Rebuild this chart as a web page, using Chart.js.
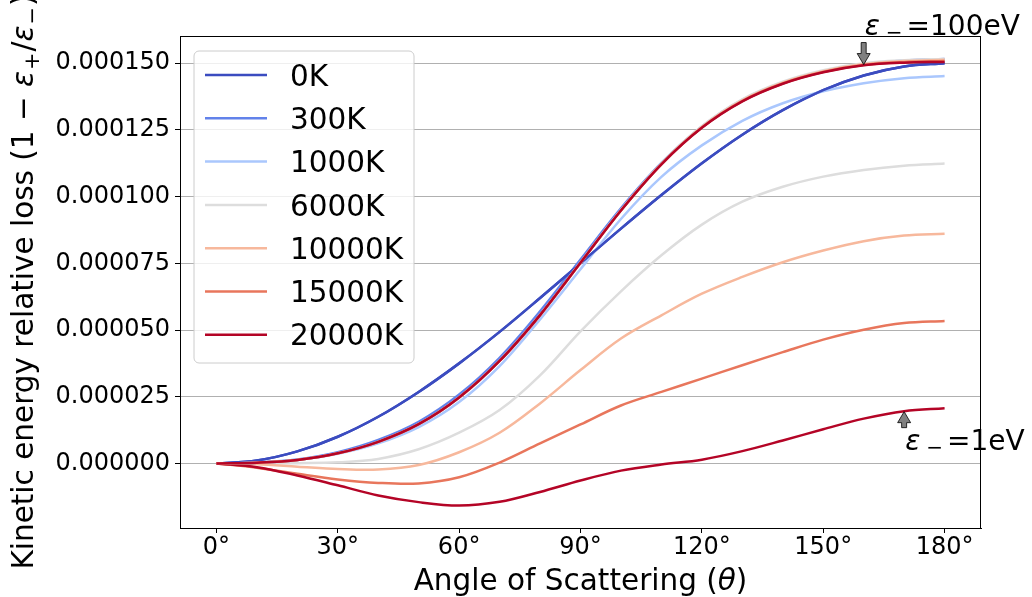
<!DOCTYPE html>
<html>
<head>
<meta charset="utf-8">
<script src="https://cdn.jsdelivr.net/npm/chart.js@4.4.0/dist/chart.umd.min.js"></script>
<style>
html,body{margin:0;padding:0;background:#fff;}
#wrap{width:1032px;height:597px;position:relative;}
</style>
</head>
<body>
<div id="wrap"><canvas id="c" width="1032" height="597"></canvas></div>
<script>
// ---------- data (values in units of 1e-6) ----------
const UNIT = 1e-6;
const angles = [0,10,20,30,40,50,60,70,80,90,100,110,120,130,140,150,160,170,180];
const temperatures = ['0K','300K','1000K','6000K','10000K','15000K','20000K'];
const colors = ['#3b4cc0','#6282ea','#aac7fd','#dddddd','#f7b89c','#e8765c','#b40426'];

const loss_0K = [0, 1.1, 4.5, 10.0, 17.5, 26.8, 37.5, 49.3, 62.0, 75.0, 88.0, 100.6, 112.5, 123.2, 132.4, 139.9, 145.4, 148.8, 150.0];

// epsilon_- = 100 eV
const loss100_300K   = [0, 0.3, 1.3, 3.9, 8.2, 14.8, 24.8, 38.6, 55.8, 75.4, 95.0, 112.3, 126.0, 135.9, 142.5, 146.8, 149.4, 150.5, 150.9];
const loss100_1000K  = [0, 0.3, 1.3, 3.8, 8.1, 14.7, 24.7, 38.5, 55.7, 75.3, 95.0, 112.3, 126.1, 136.1, 142.7, 147.0, 149.6, 150.7, 151.2];
const loss100_6000K  = [0, 0.3, 1.3, 3.8, 8.1, 14.7, 24.7, 38.4, 55.6, 75.3, 95.0, 112.5, 126.4, 136.5, 143.1, 147.4, 150.0, 151.1, 151.6];
const loss100_10000K = [0, 0.3, 1.3, 3.8, 8.1, 14.7, 24.7, 38.4, 55.6, 75.2, 94.9, 112.3, 126.1, 136.1, 142.7, 147.0, 149.7, 150.8, 151.3];
const loss100_15000K = [0, 0.3, 1.3, 3.8, 8.1, 14.7, 24.7, 38.4, 55.6, 75.2, 94.8, 112.1, 125.9, 135.8, 142.4, 146.7, 149.3, 150.4, 150.8];
const loss100_20000K = [0, 0.3, 1.3, 3.8, 8.1, 14.7, 24.7, 38.4, 55.6, 75.2, 94.8, 112.1, 125.8, 135.7, 142.3, 146.6, 149.2, 150.2, 150.5];

// epsilon_- = 1 eV
const loss1_300K   = [0, 0.4, 1.5, 4.2, 8.8, 15.6, 25.8, 39.6, 57.0, 76.4, 95.6, 112.6, 126.3, 136.3, 142.8, 147.0, 149.7, 151.0, 151.6];
const loss1_1000K  = [0, 0.3, 1.3, 3.6, 7.5, 13.6, 23.0, 36.5, 54.0, 72.8, 91.6, 107.4, 119.2, 128.4, 135.0, 139.5, 142.5, 144.4, 145.2];
const loss1_6000K  = [0, 0.0, 0.1, 0.4, 1.7, 5.3, 11.5, 20.0, 33.0, 49.5, 64.5, 78.0, 89.5, 98.1, 103.7, 107.5, 110.0, 111.6, 112.4];
const loss1_10000K = [0, -0.3, -1.2, -2.1, -2.3, -0.6, 4.2, 11.5, 22.5, 35.0, 46.8, 55.5, 63.6, 69.9, 75.4, 79.8, 83.3, 85.4, 86.1];
const loss1_15000K = [0, -1.6, -3.9, -6.0, -7.3, -7.5, -5.2, 0.3, 7.5, 14.6, 21.7, 26.8, 31.8, 36.8, 41.7, 46.4, 50.1, 52.6, 53.4];
const loss1_20000K = [0, -1.4, -4.5, -8.2, -12.0, -14.5, -15.8, -14.4, -10.7, -6.4, -2.7, -0.4, 1.4, 4.6, 8.6, 12.8, 16.8, 19.6, 20.7];

const xTickValues = [0, 30, 60, 90, 120, 150, 180];
const yTickValues = [0, 25, 50, 75, 100, 125, 150];

const annotationAngles = [160, 170];
const annotationValues = [149.5, 19.4];
const annotationLabels = ['=100eV', '=1eV'];

// ---------- build ----------
const series1 = [loss_0K, loss1_300K, loss1_1000K, loss1_6000K, loss1_10000K, loss1_15000K, loss1_20000K];
const series100 = [loss_0K, loss100_300K, loss100_1000K, loss100_6000K, loss100_10000K, loss100_15000K, loss100_20000K];

const drawList = [];
series1.forEach((s, i) => drawList.push({label: temperatures[i] + ' (1eV)', data: s, color: colors[i]}));
series100.forEach((s, i) => drawList.push({label: temperatures[i], data: s, color: colors[i]}));
const N = drawList.length;
const datasets = drawList.map((d, k) => ({
  label: d.label,
  data: angles.map((a, j) => ({x: a, y: d.data[j] * UNIT})),
  borderColor: d.color,
  backgroundColor: d.color,
  borderWidth: 2.5,
  pointRadius: 0,
  fill: false,
  tension: 0.35,
  order: N - k
}));

const FONT = "'DejaVu Sans'";
const BIG = 29.5;
Chart.defaults.font.family = FONT;
Chart.defaults.color = '#000';

function drawSegments(ctx, segs, x, y, align) {
  let total = 0;
  segs.forEach(s => { ctx.font = s.f; s.w = ctx.measureText(s.t).width; total += s.w + (s.gap || 0); });
  let cx = align === 'center' ? x - total / 2 : x;
  ctx.textAlign = 'left';
  ctx.textBaseline = 'alphabetic';
  segs.forEach(s => { ctx.font = s.f; ctx.fillText(s.t, cx, y + (s.dy || 0)); cx += s.w + (s.gap || 0); });
}

function arrow(ctx, x, yTail, yTip) {
  const dir = Math.sign(yTip - yTail);
  const hl = 11, hw = 6.5, sw = 2.5;
  const yb = yTip - dir * hl;
  ctx.beginPath();
  ctx.moveTo(x - sw, yTail);
  ctx.lineTo(x + sw, yTail);
  ctx.lineTo(x + sw, yb);
  ctx.lineTo(x + hw, yb);
  ctx.lineTo(x, yTip);
  ctx.lineTo(x - hw, yb);
  ctx.lineTo(x - sw, yb);
  ctx.closePath();
  ctx.fillStyle = '#808080';
  ctx.fill();
  ctx.lineWidth = 0.8;
  ctx.strokeStyle = '#000';
  ctx.stroke();
}

const decorPlugin = {
  id: 'decor',
  afterDraw(chart) {
    const ctx = chart.ctx;
    const ca = chart.chartArea;
    const xs = chart.scales.x, ys = chart.scales.y;
    const big = BIG + 'px ' + FONT, bigIt = 'italic ' + BIG + 'px ' + FONT, small = '21px ' + FONT;
    const ann = '28px ' + FONT, annIt = 'italic 28px ' + FONT, annSmall = '20px ' + FONT;
    ctx.save();
    // legend
    const lx = 194, ly = 51, lw = 220, lh = 312, r = 5;
    ctx.beginPath();
    ctx.moveTo(lx + r, ly);
    ctx.arcTo(lx + lw, ly, lx + lw, ly + lh, r);
    ctx.arcTo(lx + lw, ly + lh, lx, ly + lh, r);
    ctx.arcTo(lx, ly + lh, lx, ly, r);
    ctx.arcTo(lx, ly, lx + lw, ly, r);
    ctx.closePath();
    ctx.fillStyle = 'rgba(255,255,255,0.8)';
    ctx.fill();
    ctx.strokeStyle = '#cccccc';
    ctx.lineWidth = 1;
    ctx.stroke();
    temperatures.forEach((t, i) => {
      const y = 75 + i * 43.3;
      ctx.beginPath();
      ctx.moveTo(205, y); ctx.lineTo(267, y);
      ctx.strokeStyle = colors[i]; ctx.lineWidth = 2.5; ctx.stroke();
      ctx.fillStyle = '#000';
      ctx.font = big;
      ctx.textAlign = 'left'; ctx.textBaseline = 'alphabetic';
      ctx.fillText(t, 290, y + 10.6);
    });
    // frame
    ctx.strokeStyle = '#000';
    ctx.lineWidth = 1;
    ctx.strokeRect(Math.round(ca.left) + 0.5, Math.round(ca.top) + 0.5, Math.round(ca.right - ca.left) - 1, Math.round(ca.bottom - ca.top));
    // annotations
    annotationAngles.forEach((a, i) => {
      const px = xs.getPixelForValue(a);
      const py = ys.getPixelForValue(annotationValues[i] * UNIT);
      let base;
      if (i === 0) { arrow(ctx, px, py - 22, py); base = py - 30; }
      else { arrow(ctx, px, py + 16, py); base = py + 38; }
      ctx.fillStyle = '#000';
      drawSegments(ctx, [
        {t: 'ε', f: annIt, gap: 6},
        {t: '−', f: annSmall, dy: 4, gap: 4},
        {t: annotationLabels[i], f: ann}
      ], px + 1, base, 'left');
    });
    // x title
    ctx.fillStyle = '#000';
    drawSegments(ctx, [
      {t: 'Angle of Scattering (', f: big},
      {t: 'θ', f: bigIt},
      {t: ')', f: big}
    ], (ca.left + ca.right) / 2, 590, 'center');
    // y title
    ctx.translate(33, (ca.top + ca.bottom) / 2);
    ctx.rotate(-Math.PI / 2);
    drawSegments(ctx, [
      {t: 'Kinetic energy relative loss (1 − ', f: big},
      {t: 'ε', f: bigIt, gap: 1},
      {t: '+', f: small, dy: 6, gap: 1},
      {t: '/', f: big},
      {t: 'ε', f: bigIt, gap: 1},
      {t: '−', f: small, dy: 6, gap: 1},
      {t: ')', f: big}
    ], 0, 0, 'center');
    ctx.restore();
  }
};

new Chart(document.getElementById('c'), {
  type: 'line',
  data: {datasets},
  plugins: [decorPlugin],
  options: {
    responsive: false,
    animation: false,
    events: [],
    layout: {padding: {left: 0, right: 51, top: 36, bottom: 0}},
    plugins: {legend: {display: false}, tooltip: {enabled: false}},
    scales: {
      x: {
        type: 'linear',
        min: -9, max: 189,
        afterFit(s) { s.height = 69; },
        afterBuildTicks(s) { s.ticks = xTickValues.map(v => ({value: v})); },
        ticks: {callback: v => v + '°', font: {size: 24}, color: '#000', padding: 0, maxRotation: 0, autoSkip: false},
        grid: {drawOnChartArea: false, drawTicks: true, tickLength: 5, tickColor: '#000', tickWidth: 1},
        border: {display: true, color: '#000', width: 1}
      },
      y: {
        type: 'linear',
        min: -24.2 * UNIT, max: 160.2 * UNIT,
        afterFit(s) { s.width = 180; },
        afterBuildTicks(s) { s.ticks = yTickValues.map(v => ({value: v * UNIT})); },
        ticks: {callback: v => v.toFixed(6), font: {size: 24}, color: '#000', padding: 5, autoSkip: false},
        grid: {color: '#b0b0b0', lineWidth: 1, drawTicks: true, tickLength: 5, tickColor: '#000', tickWidth: 1},
        border: {display: true, color: '#000', width: 1}
      }
    }
  }
});
</script>
</body>
</html>
